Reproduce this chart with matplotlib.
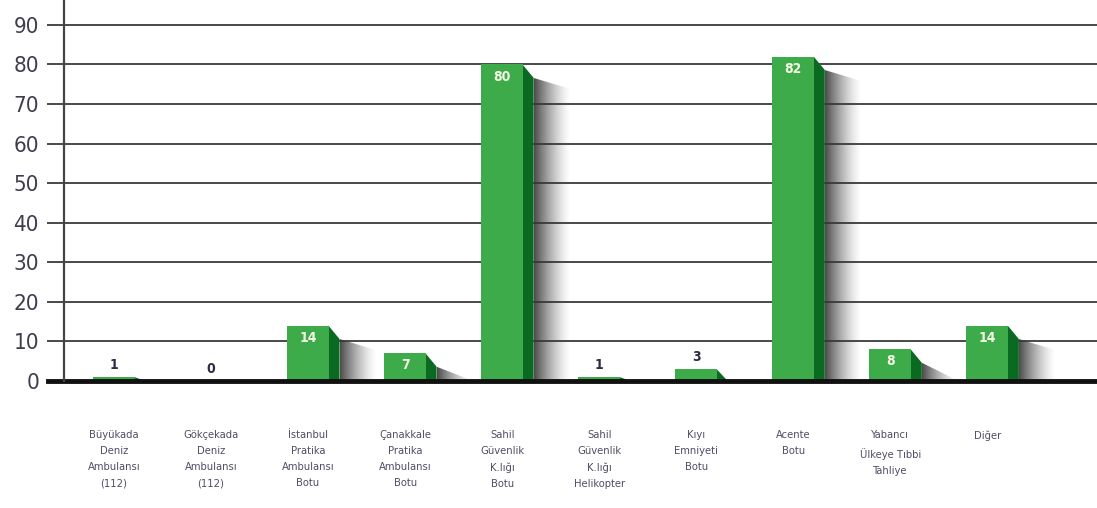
import numpy as np
import matplotlib.pyplot as plt
from matplotlib.patches import Polygon

categories = [
    "Büyükada\nDeniz\nAmbulansı\n(112)",
    "Gökçekada\nDeniz\nAmbulansı\n(112)",
    "İstanbul\nPratika\nAmbulansı\nBotu",
    "Çanakkale\nPratika\nAmbulansı\nBotu",
    "Sahil\nGüvenlik\nK.lığı\nBotu",
    "Sahil\nGüvenlik\nK.lığı\nHelikopter",
    "Kıyı\nEmniyeti\nBotu",
    "Acente\nBotu",
    "Yabancı\nÜlkeye Tıbbi\nTahliye",
    "Diğer",
]
values = [1, 0, 14, 7, 80, 1, 3, 82, 8, 14]
yticks = [0, 10, 20, 30, 40, 50, 60, 70, 80, 90]

GREEN = "#3dab4a"
DARK = "#0b6a22"
TXT = "#3d3d4f"
fam = "DejaVu Sans"
st = "condensed"

fig = plt.figure(figsize=(10.97, 5.08), dpi=100)
ax = fig.add_axes([64 / 1097, 1 - 381 / 508, 1 - 64 / 1097, 381 / 508])
ax.set_ylim(0, 96.3)
ax.set_xlim(-0.515, 10.13)

x = np.arange(len(values))
bw = 0.43
d = 0.11       # side face width
dy = 3.4       # side face slope drop
ws = 0.38      # shadow width

for yv in yticks[1:]:
    ax.axhline(yv, color="#3a3a3a", lw=1.3, zorder=1)

# horizontal gradient used for the drop shadows
grad = np.zeros((2, 64, 4))
grad[..., :3] = 0.22
grad[..., 3] = 0.9 * (1 - np.linspace(0, 1, 64)) ** 1.4

for xi, h in zip(x, values):
    if h <= 0:
        continue
    x1 = xi + bw / 2
    top0 = max(h - dy, 0)
    drop = 2.8 if h >= 10 else top0
    sx0, sx1 = x1 + d, x1 + d + ws
    shadow = Polygon([(sx0, 0), (sx0, top0), (sx1, max(top0 - drop, 0)), (sx1, 0)],
                     closed=True, facecolor="none", edgecolor="none")
    ax.add_patch(shadow)
    im = ax.imshow(grad, extent=[sx0, sx1, 0, max(top0, 0.01)], aspect="auto",
                   interpolation="bilinear", zorder=2)
    im.set_clip_path(shadow)
    # side face
    ax.add_patch(Polygon([(x1 - 0.005, 0), (x1 - 0.005, h), (x1 + d, top0), (x1 + d, 0)],
                         closed=True, facecolor=DARK, edgecolor="none", zorder=3))

ax.bar(x, values, width=bw, color=GREEN, edgecolor="none", zorder=4)

for xi, h in zip(x, values):
    if h >= 5:
        ax.text(xi, h - 1.3, str(h), ha="center", va="top", color="#f4f6e4",
                fontsize=10, fontweight="bold", family=fam, fontstretch=st, zorder=5)
    else:
        ax.text(xi, h + 1.3, str(h), ha="center", va="bottom", color="#2c2c44",
                fontsize=10, fontweight="bold", family=fam, fontstretch=st, zorder=5)
    ax.text(xi, -12.5, categories[xi], ha="center", va="top", color="#4e4e66",
            fontsize=8, family=fam, fontstretch=st, linespacing=1.75)

ax.set_xlim(-0.515, 10.13)
ax.set_ylim(0, 96.3)
ax.axhline(0, xmin=-16 / 1033, xmax=1031 / 1033, color="#111111", lw=3.5,
           zorder=6, clip_on=False)

ax.set_yticks(yticks)
ax.set_yticklabels([str(v) for v in yticks], family=fam, fontstretch=st,
                   fontsize=16, color=TXT)
ax.tick_params(axis="y", length=12, width=1.3, color="#3a3a3a", pad=6)
ax.set_xticks([])
for s in ["top", "right", "bottom"]:
    ax.spines[s].set_visible(False)
ax.spines["left"].set_color("#444444")
ax.spines["left"].set_linewidth(1.6)
ax.spines["left"].set_zorder(7)

fig.savefig("out.png", dpi=100)
